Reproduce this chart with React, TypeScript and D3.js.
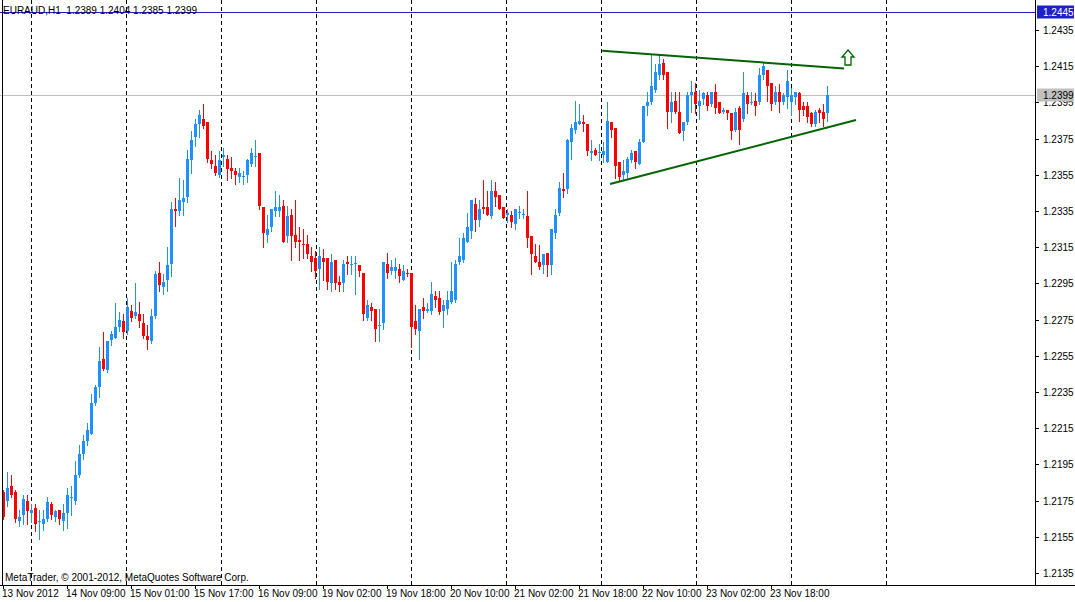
import React from 'react';
import * as d3 from 'd3';

// EURAUD H1 candles, 13 Nov 2012 17:00 .. 23 Nov 2012
const open = [
  1.2180, 1.2175, 1.2183, 1.2180, 1.2164, 1.2167, 1.2175, 1.2168, 1.2171, 1.2163, 1.2162, 1.2165, 1.2173, 1.2166, 1.2170, 1.2164,
  1.2168, 1.21765, 1.2175, 1.2189, 1.2201, 1.2208, 1.2212, 1.2229, 1.2238, 1.2253, 1.2247, 1.2264, 1.2265, 1.2271, 1.2274, 1.2269,
  1.2280, 1.2277, 1.2278, 1.2273, 1.2266, 1.2263, 1.2277, 1.2301, 1.2293, 1.2297, 1.2306, 1.2336, 1.2335, 1.2340, 1.2343, 1.2363,
  1.2376, 1.2383, 1.2386, 1.2384, 1.2363, 1.2360, 1.2355, 1.2365, 1.2364, 1.2359, 1.2357, 1.2354, 1.2354, 1.2355, 1.2361, 1.2365,
  1.2367, 1.2337, 1.2322, 1.2326, 1.2335, 1.2335, 1.2338, 1.2321, 1.2333, 1.2322, 1.2319, 1.2317, 1.2317, 1.2310, 1.2309, 1.2303,
  1.2309, 1.2309, 1.2295, 1.2308, 1.2296, 1.2295, 1.2307, 1.2305, 1.2306, 1.2305, 1.2301, 1.2276, 1.2282, 1.2281, 1.22715, 1.2273,
  1.2306, 1.2302, 1.2302, 1.2303, 1.2297, 1.2301, 1.2301, 1.2274, 1.2269, 1.2282, 1.2280, 1.2280, 1.2288, 1.2287, 1.2280, 1.2281,
  1.2285, 1.2286, 1.2307, 1.2308, 1.2318, 1.2324, 1.2339, 1.2330, 1.2337, 1.2337, 1.2332, 1.2346, 1.2344, 1.2337, 1.2333, 1.2333,
  1.2328, 1.2334, 1.2333, 1.2332, 1.2321, 1.2310, 1.2307, 1.2305, 1.2312, 1.2305, 1.2323, 1.2334, 1.2347, 1.2347, 1.2373, 1.2380,
  1.2383, 1.2384, 1.2383, 1.2367, 1.2369, 1.2367, 1.2366, 1.2362, 1.2384, 1.2381, 1.2362, 1.2355, 1.2356, 1.2363, 1.2368, 1.2361,
  1.2373, 1.2393, 1.2395, 1.2402, 1.2410, 1.2417, 1.2412, 1.2390, 1.2396, 1.2390, 1.2379, 1.2384, 1.2399, 1.2401, 1.2393, 1.2397,
  1.2399, 1.2394, 1.2401, 1.2395, 1.2390, 1.2391, 1.2389, 1.2380, 1.2392, 1.2386, 1.2399, 1.2395, 1.2396, 1.2395, 1.2410, 1.2413,
  1.2406, 1.2395, 1.2401, 1.2395, 1.2398, 1.2395, 1.2398, 1.2400, 1.2393, 1.2393, 1.2389, 1.2383, 1.2391, 1.2390, 1.2389,
];

const high = [
  1.2181, 1.2191, 1.2189, 1.2181, 1.2170, 1.2178, 1.2178, 1.2173, 1.2173, 1.2170, 1.2170, 1.2177, 1.2174, 1.2170, 1.2170, 1.2173,
  1.2182, 1.2183, 1.2197, 1.2206, 1.2211, 1.2218, 1.2234, 1.2239, 1.2260, 1.2268, 1.2263, 1.2269, 1.2284, 1.2279, 1.2278, 1.2287,
  1.2283, 1.2295, 1.2285, 1.2278, 1.2272, 1.2281, 1.2302, 1.2307, 1.2300, 1.2315, 1.2340, 1.2342, 1.2353, 1.2352, 1.2369, 1.2379,
  1.2386, 1.2391, 1.2394, 1.2384, 1.2368, 1.2366, 1.2368, 1.2370, 1.2366, 1.2365, 1.2359, 1.2359, 1.2357, 1.2364, 1.2370, 1.2374,
  1.2367, 1.2337, 1.2333, 1.2336, 1.2346, 1.2344, 1.2341, 1.2338, 1.2336, 1.2341, 1.2326, 1.2325, 1.2322, 1.2315, 1.2313, 1.2315,
  1.2314, 1.2309, 1.2311, 1.2308, 1.2299, 1.2308, 1.2310, 1.2310, 1.2310, 1.2305, 1.2301, 1.2286, 1.2284, 1.2281, 1.2281, 1.2307,
  1.2312, 1.2308, 1.2309, 1.2306, 1.2305, 1.2303, 1.2301, 1.2283, 1.2281, 1.2287, 1.2284, 1.2296, 1.2291, 1.2291, 1.2286, 1.2291,
  1.2307, 1.2308, 1.2320, 1.2323, 1.2334, 1.2341, 1.2342, 1.2341, 1.2352, 1.2346, 1.2352, 1.2351, 1.2344, 1.2337, 1.2336, 1.2335,
  1.2336, 1.2338, 1.2336, 1.2346, 1.2321, 1.2317, 1.2316, 1.2311, 1.2312, 1.2325, 1.2336, 1.2351, 1.2356, 1.2375, 1.2383, 1.2396,
  1.2394, 1.2388, 1.2383, 1.2374, 1.2370, 1.2372, 1.2373, 1.2395, 1.2384, 1.2381, 1.2362, 1.2363, 1.2365, 1.2369, 1.2368, 1.2375,
  1.2393, 1.2401, 1.2422, 1.2416, 1.2421, 1.2419, 1.2412, 1.2401, 1.2401, 1.2401, 1.2384, 1.2401, 1.2407, 1.2406, 1.2402, 1.2401,
  1.2401, 1.2401, 1.2405, 1.2395, 1.2392, 1.2391, 1.2389, 1.2392, 1.2393, 1.2412, 1.2401, 1.2401, 1.2400, 1.2414, 1.2417, 1.2413,
  1.2406, 1.2404, 1.2405, 1.2400, 1.2413, 1.2403, 1.2401, 1.2401, 1.2395, 1.2395, 1.2390, 1.2391, 1.2392, 1.2394, 1.2404,
];

const low = [
  1.2165, 1.2172, 1.2177, 1.2163, 1.2161, 1.2162, 1.2162, 1.2163, 1.2158, 1.2154, 1.2159, 1.2164, 1.2165, 1.2164, 1.2162, 1.2159,
  1.2160, 1.2167, 1.2173, 1.2188, 1.2198, 1.2206, 1.2212, 1.2228, 1.2232, 1.2247, 1.2246, 1.2261, 1.2265, 1.2269, 1.2265, 1.2267,
  1.2274, 1.2276, 1.2271, 1.2265, 1.2259, 1.2262, 1.2276, 1.2291, 1.2289, 1.2291, 1.2299, 1.2327, 1.2333, 1.2333, 1.2340, 1.2356,
  1.2371, 1.2376, 1.2381, 1.2362, 1.2359, 1.2355, 1.2354, 1.2360, 1.2352, 1.2353, 1.2350, 1.2351, 1.2350, 1.2351, 1.2360, 1.2360,
  1.2336, 1.2315, 1.2318, 1.2324, 1.2332, 1.2332, 1.2318, 1.2318, 1.2308, 1.2315, 1.2308, 1.2309, 1.2309, 1.2302, 1.2298, 1.2292,
  1.2297, 1.2292, 1.2291, 1.2292, 1.2291, 1.2291, 1.2300, 1.2300, 1.2289, 1.2299, 1.2275, 1.2275, 1.2275, 1.2263, 1.2263, 1.2270,
  1.2298, 1.2300, 1.2298, 1.2296, 1.2297, 1.2299, 1.2260, 1.2267, 1.2253, 1.2276, 1.2279, 1.2278, 1.2282, 1.2278, 1.2271, 1.2278,
  1.2284, 1.2285, 1.2306, 1.2307, 1.2318, 1.2320, 1.2324, 1.2327, 1.2334, 1.2333, 1.2331, 1.2338, 1.2336, 1.2331, 1.2329, 1.2326,
  1.2325, 1.2331, 1.2331, 1.2315, 1.2300, 1.2307, 1.2303, 1.2301, 1.2299, 1.2300, 1.2320, 1.2333, 1.2343, 1.2345, 1.2364, 1.2378,
  1.2383, 1.2379, 1.2366, 1.2363, 1.2366, 1.2363, 1.2362, 1.2362, 1.2376, 1.2353, 1.2352, 1.2352, 1.2354, 1.2362, 1.2359, 1.2361,
  1.2373, 1.2388, 1.2394, 1.2401, 1.2408, 1.2408, 1.2381, 1.2384, 1.2389, 1.2378, 1.2374, 1.2383, 1.2390, 1.2389, 1.2386, 1.2394,
  1.2391, 1.2393, 1.2389, 1.2389, 1.2389, 1.2386, 1.2375, 1.2379, 1.2372, 1.2385, 1.2389, 1.2394, 1.2388, 1.2394, 1.2408, 1.2396,
  1.2391, 1.2394, 1.2390, 1.2394, 1.2392, 1.2388, 1.2394, 1.2385, 1.2388, 1.2384, 1.2382, 1.2382, 1.2384, 1.2382, 1.2385,
];

const close = [
  1.2166, 1.2182, 1.2178, 1.2165, 1.2166, 1.2176, 1.2169, 1.2170, 1.2162, 1.2164, 1.2165, 1.2174, 1.2167, 1.2169, 1.2165, 1.2168,
  1.2178, 1.2177, 1.2189, 1.2201, 1.2208, 1.2214, 1.2229, 1.2238, 1.2252, 1.2248, 1.2263, 1.2267, 1.2271, 1.2275, 1.2268, 1.2282,
  1.2276, 1.2279, 1.2274, 1.2266, 1.2264, 1.2277, 1.2300, 1.2294, 1.2296, 1.2305, 1.2336, 1.2335, 1.2341, 1.2342, 1.2364, 1.2374,
  1.2383, 1.2388, 1.2382, 1.2364, 1.2361, 1.2356, 1.2363, 1.2366, 1.2358, 1.2357, 1.2355, 1.2356, 1.23545, 1.2363, 1.2367, 1.23655,
  1.2338, 1.2323, 1.2325, 1.2336, 1.2337, 1.2337, 1.2318, 1.2332, 1.2321, 1.2318, 1.2318, 1.2316, 1.2311, 1.2307, 1.2302, 1.2310,
  1.2307, 1.2296, 1.2307, 1.2295, 1.2294, 1.2306, 1.2306, 1.23055, 1.23065, 1.2302, 1.2278, 1.2283, 1.2280, 1.2270, 1.2272, 1.2307,
  1.2301, 1.2304, 1.2304, 1.2299, 1.2302, 1.2300, 1.2271, 1.2270, 1.2281, 1.2280, 1.2281, 1.2289, 1.2286, 1.2279, 1.2283, 1.2286,
  1.2291, 1.2306, 1.2310, 1.2320, 1.2326, 1.2341, 1.2330, 1.2336, 1.2336, 1.2333, 1.2346, 1.2343, 1.2336, 1.2331, 1.2334, 1.2329,
  1.2336, 1.23345, 1.23335, 1.2320, 1.2311, 1.2307, 1.2304, 1.2311, 1.2305, 1.2325, 1.2333, 1.2348, 1.2346, 1.2374, 1.2381, 1.2384,
  1.2385, 1.2383, 1.2368, 1.2368, 1.2366, 1.23675, 1.2368, 1.2385, 1.2380, 1.2360, 1.2354, 1.2357, 1.2364, 1.2367, 1.2362, 1.2373,
  1.2393, 1.2395, 1.2404, 1.2412, 1.2416, 1.2410, 1.2390, 1.2395, 1.2390, 1.2378, 1.2384, 1.2399, 1.2401, 1.2394, 1.2396, 1.2400,
  1.2393, 1.2401, 1.2392, 1.2389, 1.2391, 1.2389, 1.2379, 1.2390, 1.2380, 1.2400, 1.2394, 1.23955, 1.2393, 1.2410, 1.2415, 1.2404,
  1.2394, 1.2401, 1.2395, 1.2399, 1.2407, 1.2399, 1.2401, 1.2391, 1.2391, 1.2387, 1.2383, 1.2390, 1.2389, 1.2386, 1.2399,
];

// one time label every 16 bars, starting at bar 0
const timeLabels = [
  '13 Nov 2012', '14 Nov 09:00', '15 Nov 01:00', '15 Nov 17:00', '16 Nov 09:00', '19 Nov 02:00', '19 Nov 18:00',
  '20 Nov 10:00', '21 Nov 02:00', '21 Nov 18:00', '22 Nov 10:00', '23 Nov 02:00', '23 Nov 18:00',
];
const labelStep = 16;

const priceTicks = [
  1.2435, 1.2415, 1.2395, 1.2375, 1.2355, 1.2335, 1.2315, 1.2295, 1.2275, 1.2255, 1.2235, 1.2215, 1.2195, 1.2175, 1.2155, 1.2135,
];

const symbolTitle = 'EURAUD,H1  1.2389 1.2404 1.2385 1.2399';
const copyright = 'MetaTrader, © 2001-2012, MetaQuotes Software Corp.';
const bidPrice = 1.2399;
const levelPrice = 1.2445;

// trend lines drawn on the chart: [bar index, price]
const upperTrend = [[149.8, 1.24236], [210.25, 1.24138]];
const lowerTrend = [[151.75, 1.2350], [213.25, 1.23853]];
const arrowPoint = [211.25, 1.2424];

const W = 1075;
const H = 602;
const plotRight = 1035;
const plotBottom = 585;
const BULL = '#1E90FF';
const BEAR = '#FF0000';
const GREEN = '#006400';
const FONT = '"Liberation Sans", Arial, sans-serif';

export default function App() {
  const x = d3.scaleLinear().domain([0, open.length - 1]).range([3, 3 + 4 * (open.length - 1)]);
  const y = d3.scaleLinear().domain([1.2135, 1.2445]).range([573, 12]);
  const fmt = d3.format('.4f');

  // vertical grid: every 95px, last one a bit past the trend lines
  const gridX = d3.range(31.5, 900, 95);
  const trendLine = d3.line<number[]>().x(d => x(d[0])).y(d => y(d[1]));

  const ax = x(arrowPoint[0]);
  const ay = y(arrowPoint[1]);
  const arrowPath = `M${ax},${ay} L${ax + 6},${ay + 7} L${ax + 3},${ay + 7} L${ax + 3},${ay + 15} L${ax - 3},${ay + 15} L${ax - 3},${ay + 7} L${ax - 6},${ay + 7} Z`;

  const bidY = Math.round(y(bidPrice)) + 0.5;
  const levelY = Math.round(y(levelPrice)) + 0.5;

  return (
    <div style={{ position: 'absolute', left: 0, top: 0 }}>
      <svg width={W} height={H} style={{ display: 'block', background: '#fff' }} fontFamily={FONT}>
        {/* grid */}
        {gridX.map(gx => (
          <line key={gx} x1={gx} x2={gx} y1={0} y2={plotBottom} stroke="#000" strokeDasharray="4,3" />
        ))}

        {/* bid + level lines */}
        <line x1={0} x2={plotRight} y1={bidY} y2={bidY} stroke="#C0C0C0" />
        <line x1={0} x2={plotRight} y1={levelY} y2={levelY} stroke="#2020C8" />

        {/* candles */}
        <g shapeRendering="crispEdges">
          {open.map((o, i) => {
            const c = close[i];
            const cx = Math.round(x(i));
            const color = c >= o ? BULL : BEAR;
            const yTop = Math.round(y(Math.max(o, c)));
            const yBot = Math.round(y(Math.min(o, c)));
            return (
              <g key={i}>
                <line x1={cx + 0.5} x2={cx + 0.5} y1={Math.round(y(high[i]))} y2={Math.round(y(low[i])) + 1} stroke={color} />
                <rect x={cx - 1} y={yTop} width={3} height={Math.max(1, yBot - yTop)} fill={color} />
              </g>
            );
          })}
        </g>

        {/* trend lines + arrow */}
        <path d={trendLine(upperTrend) || ''} stroke={GREEN} strokeWidth={2} fill="none" />
        <path d={trendLine(lowerTrend) || ''} stroke={GREEN} strokeWidth={2} fill="none" />
        <path d={arrowPath} stroke={GREEN} strokeWidth={1.3} fill="#fff" />

        {/* frame */}
        <g shapeRendering="crispEdges" stroke="#000">
          <line x1={2.5} x2={2.5} y1={0} y2={plotBottom} />
          <line x1={0} x2={W} y1={plotBottom + 0.5} y2={plotBottom + 0.5} />
          <line x1={plotRight + 0.5} x2={plotRight + 0.5} y1={0} y2={plotBottom} />
        </g>

        {/* price axis */}
        {priceTicks.map(p => (
          <g key={p} transform={`translate(0,${Math.round(y(p)) + 0.5})`}>
            <line x1={plotRight} x2={plotRight + 4} stroke="#000" />
            <text x={plotRight + 8} dy="0.35em" fontSize={10} fill="#000">{fmt(p)}</text>
          </g>
        ))}
        <rect x={plotRight + 2} y={bidY - 7} width={37} height={13} fill="#C0C0C0" />
        <text x={plotRight + 8} y={bidY} dy="0.35em" fontSize={10} fill="#000">{fmt(bidPrice)}</text>
        <rect x={plotRight + 2} y={levelY - 7} width={37} height={13} fill="#2020C8" />
        <text x={plotRight + 8} y={levelY} dy="0.35em" fontSize={10} fill="#fff">{fmt(levelPrice)}</text>

        {/* time axis */}
        {timeLabels.map((t, k) => {
          const tx = Math.round(x(k * labelStep));
          return (
            <g key={t}>
              <line x1={tx + 0.5} x2={tx + 0.5} y1={plotBottom} y2={plotBottom + 4} stroke="#000" />
              <text x={tx - 1} y={597} fontSize={10} fill="#000">{t}</text>
            </g>
          );
        })}

        {/* captions */}
        <text x={3} y={14} fontSize={10} fill="#000" xmlSpace="preserve">{symbolTitle}</text>
        <text x={5} y={581} fontSize={10} fill="#000">{copyright}</text>
      </svg>
    </div>
  );
}
